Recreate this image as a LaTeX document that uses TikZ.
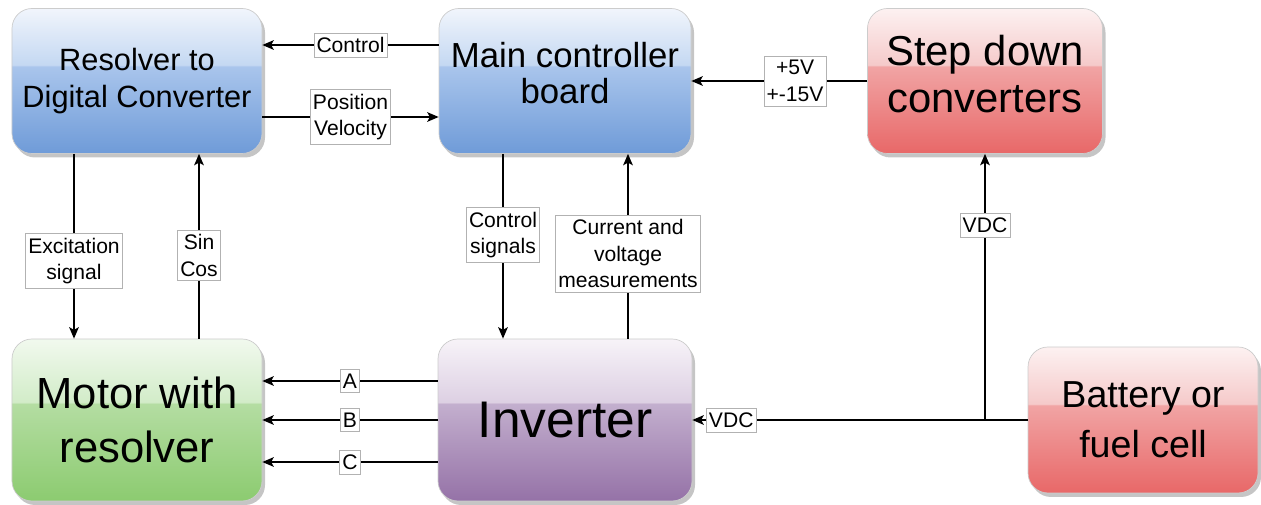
\documentclass[tikz,border=0pt]{standalone}
\usepackage{fontspec}
\setmainfont{Liberation Sans}
\usetikzlibrary{arrows.meta, shadows, calc}

\definecolor{blueTop}{HTML}{F1F5FC}
\definecolor{blueHigh}{HTML}{C4D8F2}
\definecolor{blueLow}{HTML}{A9C5EC}
\definecolor{blueBot}{HTML}{6F9BD8}
\definecolor{redTop}{HTML}{FDF1F1}
\definecolor{redHigh}{HTML}{F5CACA}
\definecolor{redLow}{HTML}{F1A4A4}
\definecolor{redBot}{HTML}{E86868}
\definecolor{greenTop}{HTML}{F1F9EE}
\definecolor{greenHigh}{HTML}{D2ECC8}
\definecolor{greenLow}{HTML}{B4DDA2}
\definecolor{greenBot}{HTML}{8CCB70}
\definecolor{purpleTop}{HTML}{F7F3F8}
\definecolor{purpleHigh}{HTML}{DDD0E3}
\definecolor{purpleLow}{HTML}{C3AFCE}
\definecolor{purpleBot}{HTML}{9572A7}

% glossy fills, the box spans 25bp..75bp
\pgfdeclareverticalshading{glossblue}{100bp}{color(0bp)=(blueBot); color(25bp)=(blueBot); color(55bp)=(blueLow); color(55.5bp)=(blueHigh); color(75bp)=(blueTop); color(100bp)=(blueTop)}
\pgfdeclareverticalshading{glossred}{100bp}{color(0bp)=(redBot); color(25bp)=(redBot); color(55bp)=(redLow); color(55.5bp)=(redHigh); color(75bp)=(redTop); color(100bp)=(redTop)}
\pgfdeclareverticalshading{glossgreen}{100bp}{color(0bp)=(greenBot); color(25bp)=(greenBot); color(55bp)=(greenLow); color(55.5bp)=(greenHigh); color(75bp)=(greenTop); color(100bp)=(greenTop)}
\pgfdeclareverticalshading{glosspurple}{100bp}{color(0bp)=(purpleBot); color(25bp)=(purpleBot); color(55bp)=(purpleLow); color(55.5bp)=(purpleHigh); color(75bp)=(purpleTop); color(100bp)=(purpleTop)}

\begin{document}
\begin{tikzpicture}[x=0.2mm, y=-0.2mm,
    block/.style={rounded corners=4mm, draw=black!20, line width=0.4pt, inner sep=0pt, align=center, shade,
      drop shadow={shadow xshift=0.6mm, shadow yshift=-0.8mm, fill=black!45, opacity=0.5}},
    lbl/.style={draw=black!30, fill=white, line width=0.4pt, inner xsep=1.5pt, inner ysep=2.5pt, align=center,
      font=\fontsize{12}{15}\selectfont},
    arr/.style={-{Stealth[length=6.5pt, width=5.5pt, inset=1.5pt]}, line width=0.9pt}]
    \useasboundingbox (0,0) rectangle (1261,505);

    % top row
    \node[block, shading=glossblue, minimum width=5cm, minimum height=2.9cm, font=\fontsize{17.5}{21.5}\selectfont] (rdc) at (137,81) {Resolver to\\Digital Converter};
    \node[block, shading=glossblue, minimum width=5.04cm, minimum height=2.9cm, font=\fontsize{19.8}{20.5}\selectfont] (mcb) at (565,81) {Main controller\\board\rule[-3.2mm]{0pt}{0pt}};
    \node[block, shading=glossred, minimum width=4.7cm, minimum height=2.9cm, font=\fontsize{23.8}{26.6}\selectfont] (sdc) at (985,81) {Step down\\converters\rule[-2.8mm]{0pt}{0pt}};
    % bottom row
    \node[block, shading=glossgreen, minimum width=5cm, minimum height=3.24cm, font=\fontsize{24.8}{31.2}\selectfont] (motor) at (137,420) {Motor with\\resolver};
    \node[block, shading=glosspurple, minimum width=5.08cm, minimum height=3.24cm, font=\fontsize{29.3}{32}\selectfont] (inv) at (565,420) {Inverter};
    \node[block, shading=glossred, minimum width=4.6cm, minimum height=2.92cm, font=\fontsize{21.4}{28.4}\selectfont] (batt) at (1143,420) {Battery or\\fuel cell};

    % signals between the boards
    \draw[arr] ([yshift=7.2mm]mcb.west) -- node[lbl] (lctl) {Control} ([yshift=7.2mm]rdc.east);
    \draw[arr] ([yshift=-7.2mm]rdc.east) -- node[lbl] (lpos) {Position\\Velocity} ([yshift=-7.2mm]mcb.west);
    \draw[arr] (sdc.west) -- node[lbl, pos=0.41] (lsup) {+5V\\+-15V} (mcb.east);
    \draw[arr] ([xshift=-12.6mm]rdc.south) -- node[lbl, pos=0.58] (lexc) {Excitation\\signal} ([xshift=-12.6mm]motor.north);
    \draw[arr] ([xshift=12.4mm]motor.north) -- node[lbl, pos=0.45] (lsin) {Sin\\Cos} ([xshift=12.4mm]rdc.south);
    \draw[arr] ([xshift=-12.4mm]mcb.south) -- node[lbl, pos=0.44] (lcs) {Control\\signals} ([xshift=-12.4mm]inv.north);
    \draw[arr] ([xshift=12.6mm]inv.north) -- node[lbl, pos=0.46] (lmeas) {Current and\\voltage\\measurements} ([xshift=12.6mm]mcb.south);

    % motor phases
    \foreach \dy/\ph in {7.8mm/A, 0mm/B, -8.4mm/C}
      \draw[arr] ([yshift=\dy]inv.west) -- node[lbl] (l\ph) {\ph} ([yshift=\dy]motor.east);

    % dc supply
    \coordinate (jn) at (sdc.south |- batt.west);
    \draw[arr] (batt.west) -- node[lbl, pos=0.884] (lvdc) {VDC} (inv.east);
    \draw[arr] (jn) -- node[lbl, pos=0.73] (lvdcup) {VDC} (sdc.south);
\end{tikzpicture}
\end{document}
